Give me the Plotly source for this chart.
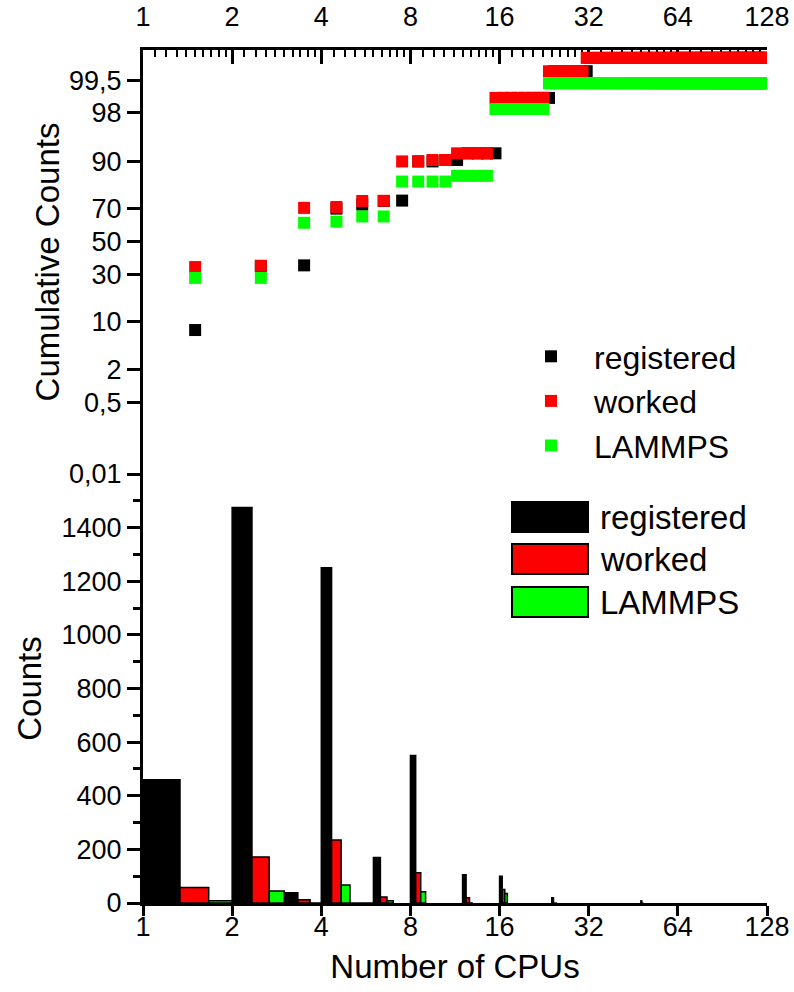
import math
from statistics import NormalDist
import plotly.graph_objects as go

# ---------------- data ----------------
# bottom panel: counts per number of CPUs
cpus = [1, 2, 3, 4, 5, 6, 8, 12, 16, 24, 48]
registered = [460, 1475, 38, 1250, 0, 170, 550, 105, 100, 20, 8]
worked = [58, 172, 12, 235, 0, 22, 113, 20, 50, 0, 0]
lammps = [8, 45, 0, 67, 0, 8, 42, 0, 35, 0, 0]

# top panel: cumulative percentage runs (first n, last n, value); plotted at n + 0.5
registered_cum = [(1, 1, 7.8), (2, 2, 34.3), (3, 3, 35.0), (4, 4, 69.9), (5, 5, 72.1),
                  (6, 6, 74.0), (7, 7, 74.2), (8, 9, 89.9), (10, 11, 90.3), (12, 15, 92.0),
                  (16, 23, 98.9), (24, 31, 99.67), (32, 127, 99.83)]
worked_cum = [(1, 1, 34.0), (2, 2, 34.8), (3, 3, 70.3), (4, 4, 70.8), (5, 5, 74.0),
              (6, 6, 74.1), (7, 8, 89.9), (9, 10, 90.3), (11, 14, 92.0), (15, 22, 98.9),
              (23, 30, 99.67), (31, 127, 99.83)]
lammps_cum = [(1, 2, 27.9), (3, 3, 61.6), (4, 4, 62.3), (5, 6, 65.4), (7, 10, 83.0),
              (11, 14, 85.2), (15, 22, 98.27), (23, 127, 99.42)]

x_tick_vals = [1, 2, 4, 8, 16, 32, 64, 128]
x_tick_text = ["1", "2", "4", "8", "16", "32", "64", "128"]
prob_tick_vals = [0.01, 0.5, 2, 10, 30, 50, 70, 90, 98, 99.5]
prob_tick_text = ["0,01", "0,5", "2", "10", "30", "50", "70", "90", "98", "99,5"]
count_tick_vals = [0, 200, 400, 600, 800, 1000, 1200, 1400]

series_names = ["registered", "worked", "LAMMPS"]
colors = ["#000000", "#ff0000", "#00ff00"]

# ---------------- helpers ----------------
nd = NormalDist()


def probit(p):
    return nd.inv_cdf(p / 100.0)


def expand(runs):
    xs, ys = [], []
    for a, b, v in runs:
        for n in range(a, b + 1):
            xs.append(n + 0.5)
            ys.append(probit(v))
    return xs, ys


FONT = "Liberation Sans, Arial, sans-serif"
L, R, T, B = 143, 27, 50, 89
W, H = 794, 992
plot_w = W - L - R
plot_h = H - T - B
split = (903 - 474) / plot_h

minor_x = []
for k in range(7):
    base = 2 ** k
    minor_x += [base * (1 + 0.1 * j) for j in range(1, 10)]

fig = go.Figure()

# ---- top panel: cumulative counts ----
for name, runs, col in zip(series_names, [registered_cum, worked_cum, lammps_cum], colors):
    xs, ys = expand(runs)
    fig.add_trace(go.Scatter(
        x=xs, y=ys, mode="markers", name=name,
        marker=dict(symbol="square", size=12, color=col, line=dict(width=0)),
        xaxis="x2", yaxis="y2", showlegend=True, legend="legend",
    ))

# ---- bottom panel: counts ----
for i, (name, vals, col) in enumerate(zip(series_names, [registered, worked, lammps], colors)):
    fig.add_trace(go.Bar(
        x=cpus, y=vals, name=name, width=1 / 3, offset=i / 3,
        marker=dict(color=col, line=dict(color="#000000", width=1.5)),
        xaxis="x", yaxis="y", showlegend=False,
    ))

xr = [0, math.log10(128)]
zr = [probit(0.01), 3.056]

common_x = dict(type="log", range=xr, tickvals=x_tick_vals, ticktext=x_tick_text,
                showline=True, linewidth=3, linecolor="black", tickcolor="black",
                showgrid=False, zeroline=False, automargin=False,
                tickfont=dict(family=FONT, size=27, color="black"))

layout = dict(
    width=W, height=H,
    margin=dict(l=L, r=R, t=T, b=B, autoexpand=False),
    paper_bgcolor="white", plot_bgcolor="white",
    barmode="overlay",
    font=dict(family=FONT, color="black"),
    xaxis=dict(common_x, domain=[0, 1], anchor="y", side="bottom", ticks="outside",
               ticklen=10, tickwidth=3, ticklabelstandoff=-12,
               title=dict(text="Number of CPUs", font=dict(family=FONT, size=33), standoff=14)),
    xaxis2=dict(common_x, domain=[0, 1], anchor="y2", side="top", ticks="inside",
                ticklen=14, tickwidth=3, ticklabelstandoff=10, layer="below traces",
                minor=dict(tickvals=minor_x, ticks="inside", ticklen=7, tickwidth=2, tickcolor="black")),
    xaxis3=dict(common_x, overlaying="x2", anchor="y2", side="bottom", ticks="inside",
                ticklen=12, tickwidth=3, showticklabels=False,
                minor=dict(tickvals=minor_x, ticks="inside", ticklen=6, tickwidth=2, tickcolor="black")),
    yaxis=dict(domain=[0, split], anchor="x", range=[0, 1600], tickvals=count_tick_vals,
               ticks="outside", ticklen=13, tickwidth=3, tickcolor="black",
               minor=dict(tickvals=[100 + 200 * k for k in range(8)], ticks="outside",
                          ticklen=7, tickwidth=3, tickcolor="black"),
               showline=True, linewidth=3, linecolor="black", showgrid=False, zeroline=False,
               automargin=False,
               tickfont=dict(family=FONT, size=27, color="black"),
               title=dict(text="Counts", font=dict(family=FONT, size=33), standoff=10)),
    yaxis4=dict(overlaying="y", anchor="x", side="right", range=[0, 1600], tickvals=count_tick_vals,
                ticks="inside", ticklen=13, tickwidth=3, tickcolor="black",
                minor=dict(tickvals=[100 + 200 * k for k in range(8)], ticks="inside",
                           ticklen=7, tickwidth=3, tickcolor="black"),
                showline=True, linewidth=3, linecolor="black", showgrid=False, zeroline=False,
                automargin=False, showticklabels=False),
    yaxis2=dict(domain=[split, 1], anchor="x2", range=zr,
                tickvals=[probit(p) for p in prob_tick_vals], ticktext=prob_tick_text,
                ticks="outside", ticklen=13, tickwidth=3, tickcolor="black",
                showline=True, linewidth=3, linecolor="black", showgrid=False, zeroline=False,
                automargin=False,
                tickfont=dict(family=FONT, size=27, color="black"),
                title=dict(text="Cumulative Counts", font=dict(family=FONT, size=33), standoff=0)),
    yaxis3=dict(overlaying="y2", anchor="x2", side="right", range=zr,
                tickvals=[probit(p) for p in prob_tick_vals],
                ticks="inside", ticklen=13, tickwidth=3, tickcolor="black",
                showline=True, linewidth=3, linecolor="black", showgrid=False, zeroline=False,
                automargin=False, showticklabels=False),
    legend=dict(x=(508 - L) / plot_w, y=(903 - 329) / plot_h, xanchor="left", yanchor="top",
                bgcolor="rgba(0,0,0,0)", font=dict(family=FONT, size=32, color="black"),
                itemwidth=76),
    showlegend=True,
)
fig.update_layout(layout)

# bottom-panel legend (wide swatches, as in the original)
swatches = [(502, 532), (544, 574), (587, 617)]
text_y = [517, 559, 602]
for (ya, yb), ty, name, col in zip(swatches, text_y, series_names, colors):
    fig.add_shape(type="rect", xref="paper", yref="paper",
                  x0=(512 - L) / plot_w, x1=(588 - L) / plot_w,
                  y0=(903 - yb) / plot_h, y1=(903 - ya) / plot_h,
                  fillcolor=col, line=dict(color="black", width=2))
    fig.add_annotation(xref="paper", yref="paper", x=(598 - L) / plot_w, y=(903 - ty) / plot_h,
                       text=name, showarrow=False, xanchor="left", yanchor="middle",
                       font=dict(family=FONT, size=33, color="black"))

fig.write_html("out.html")
